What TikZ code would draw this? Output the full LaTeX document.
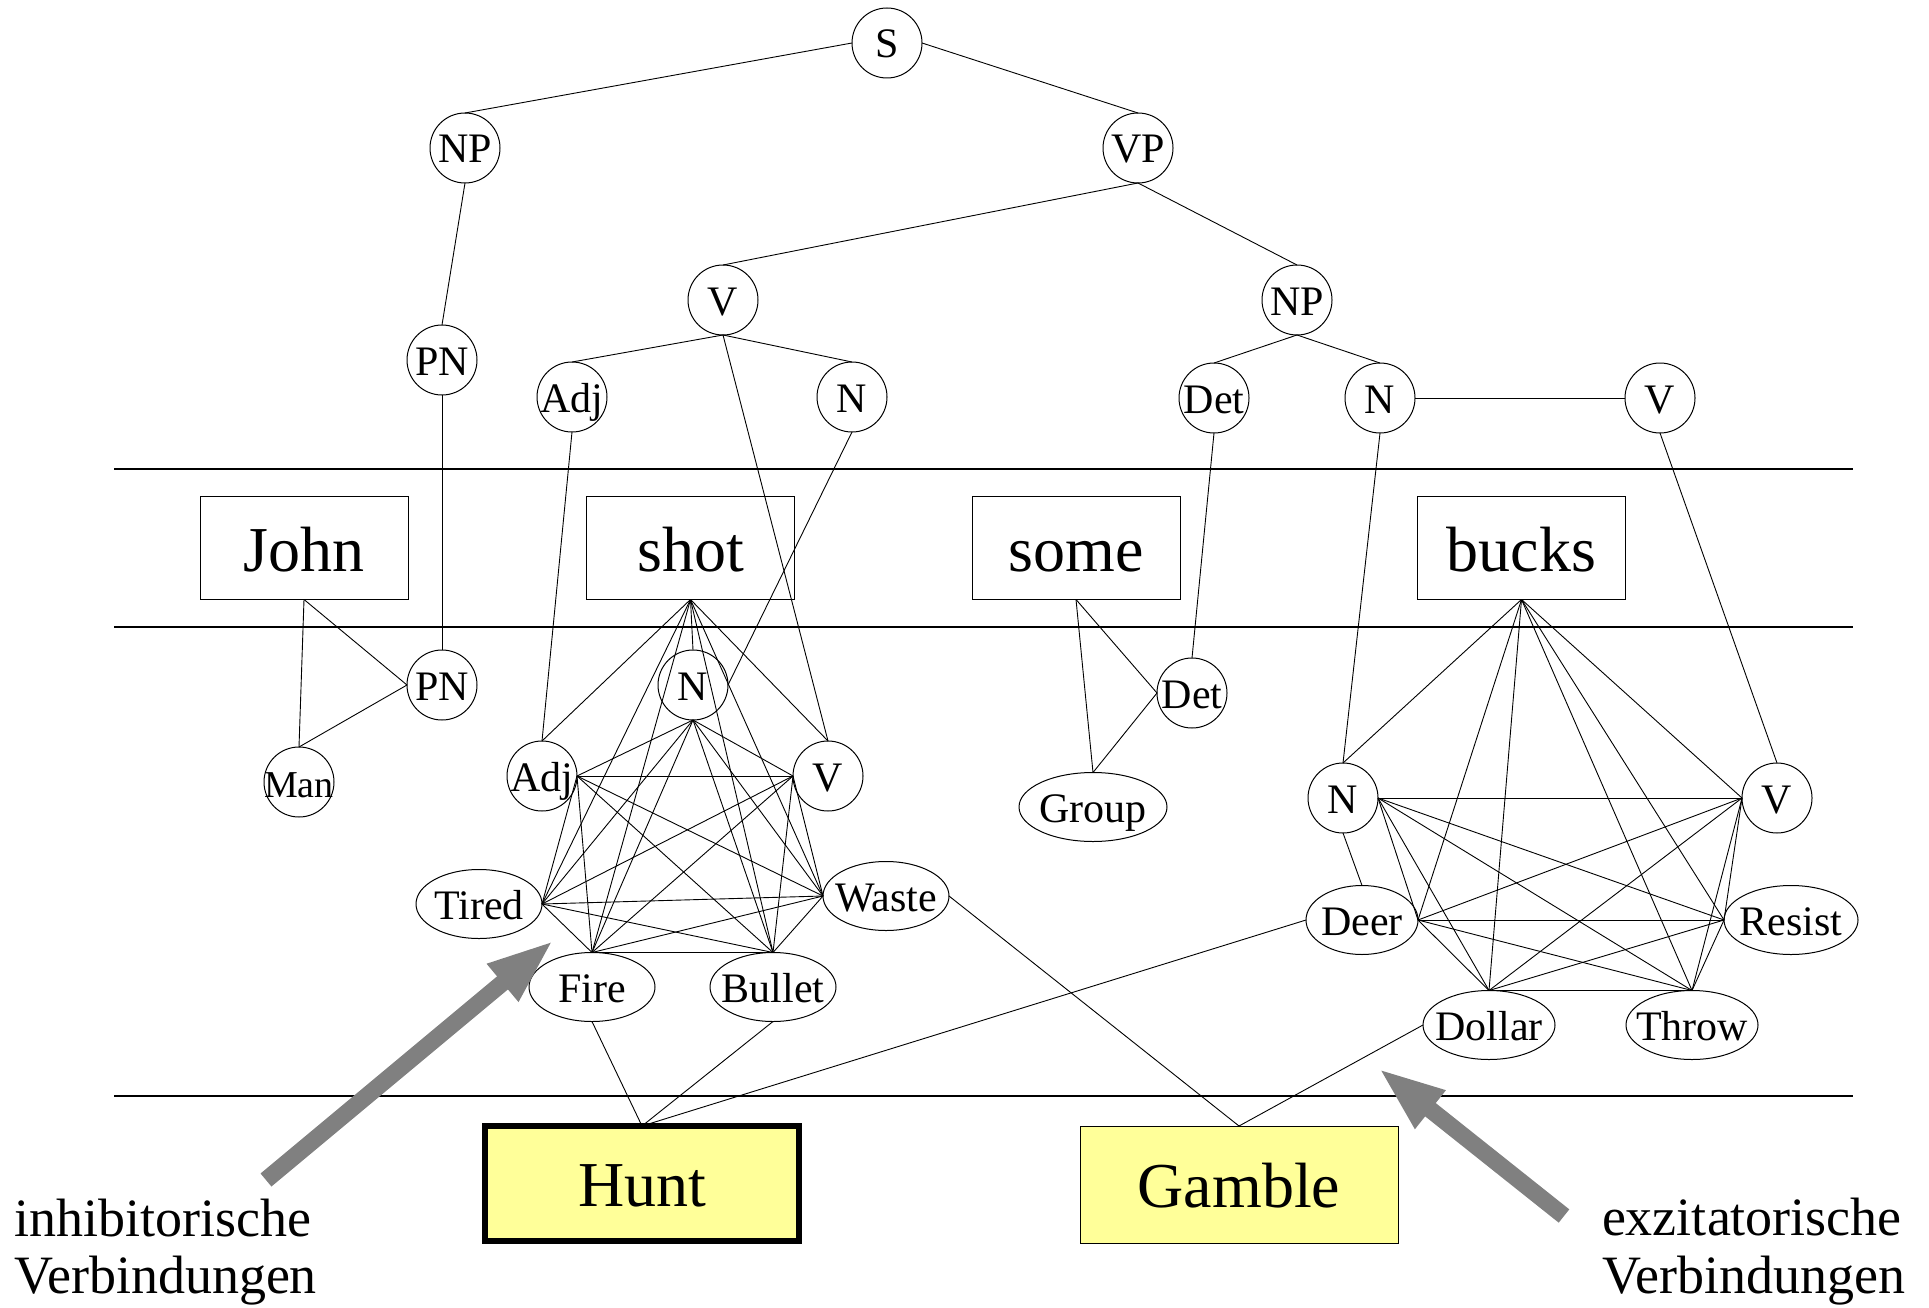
\documentclass[tikz,border=0pt]{standalone}
\usepackage{fontspec}
\setmainfont{Liberation Serif}
\usetikzlibrary{shapes.geometric,arrows.meta}
\definecolor{sensefill}{RGB}{255,255,153}
\definecolor{hintgray}{RGB}{128,128,128}
% label of fixed-size shapes: the text does not widen the shape
\newcommand{\zlbl}[1]{\makebox[0pt][c]{#1}}

\begin{document}
\begin{tikzpicture}[x=1pt,y=-1pt,
  every node/.style={inner sep=0pt, outer sep=0pt},
  cat/.style={circle, draw, line width=1pt, minimum size=70pt,
    text height=30pt, text depth=0pt,
    font=\fontsize{42}{42}\selectfont},
  concept/.style={ellipse, draw, line width=1pt, minimum height=69pt,
    minimum width=#1, text height=30pt, text depth=0pt,
    font=\fontsize{42}{42}\selectfont},
  concept/.default=126pt,
  word/.style={rectangle, draw, line width=1pt, minimum width=208pt,
    minimum height=103pt, text height=46pt, text depth=0pt,
    font=\fontsize{64}{64}\selectfont},
  sense/.style={rectangle, draw, fill=sensefill, text height=46pt,
    text depth=0pt, font=\fontsize{64}{64}\selectfont},
  link/.style={line width=0.9pt},
  rule/.style={line width=1.2pt},
  hint/.style={hintgray, line width=17pt, -{Triangle[length=67pt,width=44pt]}},
  note/.style={anchor=base west, font=\fontsize{54}{54}\selectfont}
]
\useasboundingbox (0,0) rectangle (1929,1308);

% ---------- layer separators ----------
\coordinate (r1a) at (114,469);  \coordinate (r1b) at (1853,469);
\coordinate (r2a) at (114,627);  \coordinate (r2b) at (1853,627);
\coordinate (r3a) at (114,1096); \coordinate (r3b) at (1853,1096);
\draw[rule] (r1a) -- (r1b);
\draw[rule] (r2a) -- (r2b);
\draw[rule] (r3a) -- (r3b);

% ---------- syntactic tree ----------
\node[cat] (S)    at (887,43)   {\zlbl{S}};
\node[cat] (NP)   at (465,148)  {\zlbl{NP}};
\node[cat] (VP)   at (1138,148) {\zlbl{VP}};
\node[cat] (V1)   at (723,300)  {\zlbl{V}};
\node[cat] (NP2)  at (1297,300) {\zlbl{NP}};
\node[cat] (PN1)  at (442,360)  {\zlbl{PN}};
\node[cat] (Adj1) at (572,397)  {\zlbl{Adj}};
\node[cat] (N1)   at (852,397)  {\zlbl{N}};
\node[cat] (Det1) at (1214,398) {\zlbl{Det}};
\node[cat] (N2)   at (1380,398) {\zlbl{N}};
\node[cat] (V2)   at (1660,398) {\zlbl{V}};

\draw[link] (S.west) -- (NP.north);
\draw[link] (S.east) -- (VP.north);
\draw[link] (NP.south) -- (PN1.north);
\draw[link] (VP.south) -- (V1.north);
\draw[link] (VP.south) -- (NP2.north);
\draw[link] (V1.south) -- (Adj1.north);
\draw[link] (V1.south) -- (N1.north);
\draw[link] (NP2.south) -- (Det1.north);
\draw[link] (NP2.south) -- (N2.north);
\draw[link] (N2.east) -- (V2.west);

% ---------- input words ----------
\node[word] (John)  at (304,548)    {John};
\node[word] (shot)  at (690.5,548)  {shot};
\node[word] (some)  at (1076,548)   {some};
\node[word] (bucks) at (1521.5,548) {bucks};

% ---------- lexical / semantic units ----------
\node[cat] (PNl) at (442,685) {\zlbl{PN}};
\node[cat, font=\fontsize{38}{38}\selectfont] (Man) at (299,782) {\zlbl{Man}};

\node[cat] (Nl)   at (693,685) {\zlbl{N}};
\node[cat] (Adjl) at (542,776) {\zlbl{Adj}};
\node[cat] (Vl)   at (828,776) {\zlbl{V}};
\node[concept] (Tired)  at (479,904) {\zlbl{Tired}};
\node[concept] (Waste)  at (886,896) {\zlbl{Waste}};
\node[concept] (Fire)   at (592,987) {\zlbl{Fire}};
\node[concept] (Bullet) at (773,987) {\zlbl{Bullet}};

\node[cat] (Detl) at (1192,693) {\zlbl{Det}};
\node[concept=148pt] (Group) at (1093,807) {\zlbl{Group}};

\node[cat] (Nb) at (1343,798) {\zlbl{N}};
\node[cat] (Vb) at (1777,798) {\zlbl{V}};
\node[concept=112pt] (Deer)   at (1362,920)  {\zlbl{Deer}};
\node[concept=134pt] (Resist) at (1791,920)  {\zlbl{Resist}};
\node[concept=132pt] (Dollar) at (1489,1025) {\zlbl{Dollar}};
\node[concept=132pt] (Throw)  at (1692,1025) {\zlbl{Throw}};

% ---------- readings ----------
\node[sense, line width=6pt, minimum width=314pt, minimum height=115pt] (Hunt) at (642,1183.5) {Hunt};
\node[sense, line width=1pt, minimum width=318pt, minimum height=117pt] (Gamble) at (1239,1184.5) {Gamble};

% ---------- tree to units ----------
\draw[link] (PN1.south) -- (PNl.north);
\draw[link] (Adj1.south) -- (Adjl.north);
\draw[link] (V1.south) -- (Vl.north);
\draw[link] (N1.south) -- (Nl.east);
\draw[link] (Det1.south) -- (Detl.north);
\draw[link] (N2.south) -- (Nb.north);
\draw[link] (V2.south) -- (Vb.north);

% ---------- John ----------
\draw[link] (John.south) -- (Man.north);
\draw[link] (John.south) -- (PNl.west);
\draw[link] (Man.north) -- (PNl.west);

% ---------- some ----------
\draw[link] (some.south) -- (Group.north);
\draw[link] (some.south) -- (Detl.west);
\draw[link] (Group.north) -- (Detl.west);

% ---------- shot ----------
\foreach \t in {Adjl.north, Tired.east, Fire.north, Nl.north, Bullet.north, Waste.west, Vl.north}
  \draw[link] (shot.south) -- (\t);
\foreach \a [count=\i] in {Nl.south, Adjl.east, Vl.west, Tired.east, Waste.west, Fire.north, Bullet.north}
  \foreach \b [count=\j] in {Nl.south, Adjl.east, Vl.west, Tired.east, Waste.west, Fire.north, Bullet.north}
    {\ifnum\j>\i \draw[link] (\a) -- (\b);\fi}

% ---------- bucks ----------
\foreach \t in {Nb.north, Deer.east, Dollar.north, Throw.north, Resist.west, Vb.west}
  \draw[link] (bucks.south) -- (\t);
\foreach \a [count=\i] in {Nb.east, Vb.west, Deer.east, Resist.west, Dollar.north, Throw.north}
  \foreach \b [count=\j] in {Nb.east, Vb.west, Deer.east, Resist.west, Dollar.north, Throw.north}
    {\ifnum\j>\i \draw[link] (\a) -- (\b);\fi}
\draw[link] (Nb.south) -- (Deer.north);

% ---------- units to readings ----------
\draw[link] (Fire.south) -- (Hunt.north);
\draw[link] (Bullet.south) -- (Hunt.north);
\draw[link] (Deer.west) -- (Hunt.north);
\draw[link] (Waste.east) -- (Gamble.north);
\draw[link] (Dollar.west) -- (Gamble.north);

% ---------- legend arrows ----------
\coordinate (inhTail) at (266,1180);
\coordinate (inhTip)  at (554,940);
\coordinate (excTail) at (1564,1216);
\coordinate (excTip)  at (1378,1068);
\draw[hint] (inhTail) -- (inhTip);
\draw[hint] (excTail) -- (excTip);

\node[note] (inhA) at (14,1236)   {inhibitorische};
\node[note] (inhB) at (14,1293)   {Verbindungen};
\node[note] (excA) at (1602,1235) {exzitatorische};
\node[note] (excB) at (1602,1293) {Verbindungen};
\end{tikzpicture}
\end{document}
